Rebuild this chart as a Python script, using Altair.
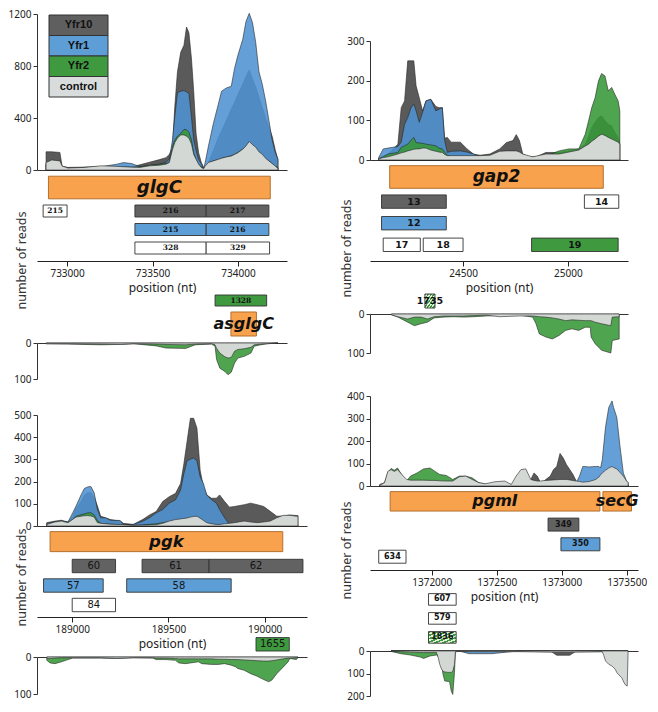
import altair as alt
import pandas as pd

SERIES = ["Yfr10", "Yfr1", "Yfr2", "control"]

# ---------------- glgC (top-left) ----------------
GLGC_POS = [732877, 732910, 732958, 732971, 733005, 733101, 733197, 733292, 733330, 733378,
            733426, 733483, 733541, 733579, 733598, 733617, 733630, 733646, 733665, 733684,
            733699, 733713, 733728, 733741, 733755, 733770, 733785, 733799, 733808, 733827,
            733856, 733885, 733904, 733932, 733961, 733980, 733999, 734028, 734047, 734066,
            734085, 734104, 734123, 734143, 734162, 734181, 734200, 734219, 734234]
GLGC_YFR10 = [140, 140, 135, 30, 20, 22, 25, 28, 30, 25, 40, 60, 80, 95, 120, 170, 480, 756, 905, 960,
              1100, 1055, 855, 605, 280, 132, 60, 20, 15, 60, 150, 250, 300, 380, 470, 520, 580, 660, 720, 770,
              700, 640, 560, 480, 400, 330, 260, 150, 80]
GLGC_YFR1 = [50, 50, 50, 20, 15, 20, 25, 45, 57, 50, 25, 35, 45, 60, 82, 232, 407, 594, 606, 611,
             600, 590, 407, 232, 150, 80, 50, 12, 57, 182, 357, 506, 606, 631, 644, 781, 880, 1005, 1143, 1205,
             1135, 980, 756, 656, 531, 382, 232, 132, 82]
GLGC_YFR2 = [40, 40, 40, 15, 12, 15, 20, 22, 22, 20, 25, 35, 45, 50, 60, 182, 230, 260, 282, 312,
             310, 290, 232, 132, 80, 40, 25, 12, 20, 50, 70, 80, 90, 100, 110, 120, 135, 160, 180, 200,
             180, 160, 135, 110, 85, 70, 50, 30, 20]
GLGC_CTRL = [57, 77, 70, 30, 15, 20, 32, 28, 25, 22, 20, 32, 37, 45, 57, 157, 210, 245, 270, 270,
             260, 245, 200, 120, 82, 45, 20, 10, 30, 57, 70, 82, 90, 100, 107, 120, 132, 160, 185, 220,
             195, 175, 140, 120, 90, 70, 50, 30, 10]
GLGC_AS_POS = [732877, 733005, 733197, 733311, 733388, 733522, 733579, 733694, 733751, 733846,
               733866, 733875, 733894, 733923, 733942, 733961, 733980, 733999, 734037, 734076,
               734095, 734133, 734171, 734234]
GLGC_AS_YFR2 = [2, 3, 5, 4, 2, 8, 14, 15, 5, 3, 9, 46, 70, 79, 88, 81, 56, 42, 37, 28, 9, 5, 2, 0]
GLGC_AS_CTRL = [2, 2, 3, 4, 2, 3, 4, 5, 3, 2, 5, 15, 28, 38, 42, 40, 23, 18, 16, 12, 5, 3, 2, 0]
GLGC_GENE = {"name": ["glgC"], "start": [732891], "end": [734189], "lane": [-0.27]}
GLGC_FRAGS = {"label": ["215", "216", "217", "215", "216", "328", "329"],
              "start": [732860, 733397, 733814, 733397, 733814, 733397, 733814],
              "end": [733000, 733814, 734181, 733814, 734181, 733814, 734185],
              "lane": [1, 1, 1, 2, 2, 3, 3],
              "kind": ["control", "Yfr10", "Yfr10", "Yfr1", "Yfr1", "control", "control"]}
GLGC_AS_GENE = {"name": ["asglgC"], "start": [733959], "end": [734108], "lane": [0]}
GLGC_AS_FRAGS = {"label": ["1328"], "start": [733866], "end": [734168], "lane": [1], "kind": ["Yfr2"]}

# ---------------- gap2 (top-right) ----------------
GAP2_POS = [24098, 24119, 24142, 24189, 24205, 24221, 24236, 24252, 24265, 24276, 24291, 24307,
            24323, 24346, 24370, 24385, 24401, 24412, 24425, 24443, 24487, 24519, 24550, 24581,
            24628, 24675, 24707, 24738, 24754, 24769, 24785, 24832, 24895, 24958, 25005, 25052,
            25083, 25099, 25114, 25130, 25146, 25161, 25177, 25193, 25209, 25224, 25240, 25248]
GAP2_YFR10 = [5, 10, 15, 40, 132, 149, 250, 250, 250, 187, 157, 124, 149, 153, 135, 132, 132, 55, 57, 45,
              45, 28, 15, 12, 15, 28, 44, 49, 64, 49, 15, 4, 19, 19, 23, 28, 40, 60, 82, 95,
              107, 111, 99, 90, 86, 70, 57, 40]
GAP2_YFR1 = [7, 28, 30, 34, 45, 90, 107, 132, 141, 124, 95, 120, 149, 153, 124, 128, 132, 50, 19, 22,
             23, 20, 15, 5, 2, 2, 2, 2, 2, 2, 2, 2, 2, 2, 2, 2, 2, 2, 2, 2,
             2, 2, 2, 2, 2, 2, 2, 2]
GAP2_YFR2 = [3, 8, 15, 19, 32, 36, 40, 50, 57, 44, 43, 42, 40, 38, 36, 30, 28, 20, 12, 8,
             8, 8, 8, 8, 8, 10, 10, 10, 10, 10, 10, 8, 10, 23, 28, 28, 65, 99, 132, 157,
             199, 218, 212, 174, 183, 166, 149, 124]
GAP2_CTRL = [3, 6, 8, 15, 18, 20, 23, 25, 27, 28, 28, 30, 30, 25, 22, 20, 19, 14, 11, 11,
             11, 11, 11, 11, 12, 22, 23, 23, 23, 20, 15, 8, 15, 15, 20, 25, 35, 40, 47, 53,
             60, 65, 62, 57, 53, 49, 45, 40]
GAP2_AS_POS = [24158, 24189, 24236, 24268, 24299, 24330, 24362, 24409, 24456, 24503, 24550, 24613,
               24675, 24769, 24832, 24848, 24864, 24895, 24926, 24958, 24989, 25020, 25052, 25083,
               25107, 25111, 25130, 25161, 25205, 25212, 25245]
GAP2_AS_YFR2 = [2, 8, 21, 30, 25, 21, 10, 8, 7, 8, 7, 5, 4, 3, 8, 25, 51, 59, 64, 55,
                42, 38, 42, 34, 34, 59, 76, 93, 100, 68, 64]
GAP2_AS_CTRL = [2, 7, 13, 8, 8, 13, 7, 5, 5, 5, 4, 3, 7, 5, 5, 6, 7, 8, 10, 13,
                17, 15, 16, 17, 17, 17, 21, 25, 30, 8, 7]
GAP2_GENE = {"name": ["gap2"], "start": [24150], "end": [25169], "lane": [-0.14]}
GAP2_FRAGS = {"label": ["13", "14", "12", "17", "18", "19"],
              "start": [24111, 25079, 24111, 24119, 24310, 24827],
              "end": [24420, 25243, 24420, 24296, 24500, 25240],
              "lane": [1, 1, 2, 3, 3, 3],
              "kind": ["Yfr10", "control", "Yfr1", "control", "control", "Yfr2"]}
GAP2_AS_FRAGS = {"label": ["1735"], "start": [24318], "end": [24366], "lane": [0], "kind": ["hatch"]}

# ---------------- pgk (bottom-left) ----------------
PGK_POS = [188868, 188910, 188944, 188978, 189003, 189020, 189046, 189063, 189080, 189097,
           189114, 189131, 189148, 189173, 189198, 189249, 189266, 189317, 189368, 189402,
           189436, 189470, 189504, 189537, 189563, 189580, 189597, 189614, 189631, 189648,
           189665, 189682, 189699, 189724, 189749, 189766, 189792, 189817, 189843, 189894,
           189927, 189961, 189995, 190029, 190063, 190097, 190131, 190165, 190173]
PGK_YFR10 = [15, 22, 26, 18, 44, 80, 110, 140, 150, 150, 130, 90, 44, 37, 29, 22, 12, 7, 30, 50,
             65, 110, 132, 147, 191, 279, 382, 485, 485, 441, 250, 176, 140, 125, 125, 140, 110, 85, 88, 96,
             103, 96, 88, 66, 44, 45, 50, 47, 47]
PGK_YFR1 = [12, 18, 22, 18, 60, 90, 140, 169, 176, 178, 150, 74, 37, 37, 26, 25, 7, 7, 22, 37,
            59, 74, 103, 118, 162, 235, 294, 301, 306, 294, 221, 191, 140, 118, 103, 74, 37, 7, 0, 0,
            0, 0, 0, 0, 0, 0, 0, 0, 0]
PGK_YFR2 = [5, 10, 15, 12, 30, 44, 51, 55, 59, 60, 50, 25, 12, 10, 8, 6, 4, 3, 5, 8,
            10, 15, 20, 25, 28, 30, 32, 35, 38, 40, 30, 20, 12, 8, 6, 5, 5, 5, 5, 5,
            5, 5, 5, 5, 5, 5, 5, 5, 5]
PGK_CTRL = [7, 18, 22, 15, 30, 40, 44, 46, 47, 45, 40, 15, 12, 10, 8, 7, 6, 3, 4, 5,
            6, 12, 22, 29, 32, 34, 36, 40, 43, 44, 35, 25, 15, 10, 7, 7, 10, 12, 15, 22,
            18, 15, 18, 22, 37, 48, 48, 44, 44]
PGK_AS_POS = [188868, 188885, 188910, 188944, 188978, 189003, 189148, 189232, 189317, 189419,
              189436, 189487, 189537, 189554, 189588, 189656, 189673, 189724, 189758, 189792,
              189826, 189851, 189860, 189894, 189927, 189961, 189995, 190021, 190038, 190063,
              190097, 190122, 190131, 190165, 190173]
PGK_AS_YFR2 = [9, 16, 18, 13, 7, 3, 3, 4, 2, 3, 7, 7, 9, 16, 18, 13, 18, 20, 20, 18,
               22, 27, 31, 36, 45, 52, 61, 67, 62, 45, 27, 13, 4, 7, 2]
PGK_AS_CTRL = [4, 4, 3, 2, 2, 2, 2, 4, 2, 2, 3, 3, 4, 5, 5, 5, 5, 5, 6, 6,
               7, 7, 7, 8, 9, 10, 11, 11, 10, 8, 5, 3, 3, 2, 1]
PGK_GENE = {"name": ["pgk"], "start": [188885], "end": [190094], "lane": [-0.25]}
PGK_FRAGS = {"label": ["60", "61", "62", "57", "58", "84"],
             "start": [189000, 189363, 189711, 188851, 189283, 189000],
             "end": [189225, 189711, 190199, 189161, 189826, 189225],
             "lane": [1, 1, 1, 2, 2, 3],
             "kind": ["Yfr10", "Yfr10", "Yfr10", "Yfr1", "Yfr1", "control"]}
PGK_AS_FRAGS = {"label": ["1655"], "start": [189955], "end": [190128], "lane": [0], "kind": ["Yfr2"]}

# ---------------- pgmI / secG (bottom-right) ----------------
PGMI_POS = [1371600, 1371637, 1371662, 1371687, 1371712, 1371737, 1371775, 1371807, 1371837, 1371887,
            1371937, 1371987, 1372025, 1372062, 1372112, 1372162, 1372212, 1372262, 1372312, 1372362,
            1372412, 1372487, 1372562, 1372612, 1372649, 1372687, 1372724, 1372762, 1372787, 1372812,
            1372837, 1372862, 1372912, 1372937, 1372962, 1372987, 1373012, 1373037, 1373062, 1373087,
            1373112, 1373137, 1373162, 1373212, 1373262, 1373287, 1373299, 1373312, 1373337, 1373362,
            1373387, 1373399, 1373424, 1373449, 1373474, 1373499, 1373511]
PGMI_YFR10 = [3, 5, 5, 5, 5, 5, 5, 5, 5, 5, 5, 5, 5, 5, 5, 5, 5, 5, 5, 5,
              5, 5, 5, 5, 5, 5, 5, 29, 58, 44, 15, 22, 44, 73, 87, 145, 124, 95, 73, 51,
              22, 5, 5, 5, 5, 5, 5, 5, 5, 5, 5, 5, 5, 5, 5, 5, 5]
PGMI_YFR1 = [3, 3, 3, 3, 3, 3, 3, 3, 3, 3, 3, 3, 3, 3, 3, 3, 3, 3, 3, 3,
             3, 3, 3, 3, 3, 3, 3, 3, 3, 3, 3, 3, 3, 3, 3, 3, 3, 3, 3, 3,
             15, 44, 87, 85, 87, 87, 80, 116, 262, 349, 378, 349, 305, 174, 58, 22, 15]
PGMI_YFR2 = [7, 15, 58, 78, 70, 80, 44, 22, 44, 58, 76, 80, 65, 51, 47, 29, 44, 44, 36, 15,
             8, 5, 5, 5, 5, 5, 5, 5, 5, 5, 5, 5, 5, 5, 5, 5, 5, 5, 5, 5,
             5, 5, 5, 5, 5, 5, 5, 5, 5, 5, 5, 5, 5, 5, 5, 5, 5]
PGMI_CTRL = [3, 15, 65, 73, 65, 73, 48, 29, 26, 26, 26, 25, 25, 23, 22, 22, 41, 44, 29, 15,
             10, 19, 22, 7, 44, 73, 76, 29, 25, 22, 22, 24, 26, 27, 28, 29, 29, 29, 27, 24,
             22, 20, 17, 20, 29, 40, 50, 58, 70, 80, 87, 82, 76, 60, 44, 22, 15]
PGMI_AS_POS = [1371687, 1371762, 1371837, 1371912, 1371937, 1371987, 1372037, 1372050, 1372062, 1372075,
               1372087, 1372100, 1372125, 1372137, 1372150, 1372162, 1372175, 1372182, 1372212, 1372287,
               1372312, 1372437, 1372462, 1372662, 1372912, 1372962, 1372987, 1373037, 1373062, 1373112,
               1373312, 1373324, 1373337, 1373362, 1373387, 1373412, 1373424, 1373436, 1373461, 1373486,
               1373504, 1373511]
PGMI_AS_YFR10 = [0] * 25 + [19, 19, 19, 19] + [0] * 13
PGMI_AS_YFR1 = [0] * 19 + [12, 12, 12, 12] + [0] * 19
PGMI_AS_YFR2 = [2, 12, 18, 27, 33, 22, 18, 25, 30, 59, 104, 133, 135, 136, 178, 193, 96, 3, 2, 2,
                2, 2, 2, 2, 3, 3, 3, 3, 3, 3, 3, 3, 3, 3, 3, 3, 3, 3, 3, 3, 3, 0]
PGMI_AS_CTRL = [1, 3, 5, 7, 7, 7, 7, 30, 60, 80, 90, 93, 95, 95, 95, 90, 60, 3, 2, 3,
                3, 3, 3, 3, 5, 5, 5, 5, 5, 5, 3, 20, 44, 59, 67, 81, 96, 104, 118, 148, 156, 0]
PGMI_GENE = {"name": ["pgmI", "secG"], "start": [1371680, 1373317], "end": [1373294, 1373537],
             "lane": [-0.18, -0.18]}
PGMI_FRAGS = {"label": ["349", "350", "634"],
              "start": [1372895, 1372994, 1371592],
              "end": [1373132, 1373294, 1371802],
              "lane": [1, 2, 2.63],
              "kind": ["Yfr10", "Yfr1", "control"]}
PGMI_AS_FRAGS = {"label": ["1836", "579", "607"],
                 "start": [1371975, 1371975, 1371975],
                 "end": [1372188, 1372188, 1372188],
                 "lane": [0, 1, 2],
                 "kind": ["hatch", "control", "control"]}

# ---------------- styles ----------------
FONT = "Noto Sans"
AREA_FILL = {"Yfr10": "#5a5a5a", "Yfr1": "#4f93d2", "Yfr2": "#379737", "control": "#d3d8d5"}
AREA_OPACITY = {"Yfr10": 1.0, "Yfr1": 0.88, "Yfr2": 0.88, "control": 1.0}
BOX_FILL = {"Yfr10": "#626262", "Yfr1": "#5e9ed7", "Yfr2": "#3f9a3f", "control": "#ffffff"}
LEGEND_FILL = ["#5f5f5f", "#5e9ed7", "#3f9a3f", "#d9dcdc"]
GENE_FILL = "#f9a24e"
GENE_STROKE = "#b3702e"

stops = []
for i in range(7):
    a, b, c = i / 7, (i + 0.5) / 7, (i + 1) / 7
    stops += [alt.GradientStop(offset=a, color="#3f9a3f"), alt.GradientStop(offset=b, color="#3f9a3f"),
              alt.GradientStop(offset=b, color="#e4f2df"), alt.GradientStop(offset=c, color="#e4f2df")]
HATCH = alt.LinearGradient(gradient="linear", x1=0, y1=0, x2=1, y2=1, stops=stops)


def area_layers(pos, series, xs, ydom, yticks, antisense):
    xaxis = alt.Axis(orient="top" if antisense else "bottom", labels=False, ticks=False, title=None,
                     domainColor="#333", grid=False)
    yaxis = alt.Axis(values=yticks, format="d", title=None, tickSize=4, labelPadding=2, domainColor="#333",
                     tickColor="#333", labelFont=FONT, labelFontSize=10, labelColor="#222", grid=False)
    ys = alt.Scale(domain=ydom, nice=False, zero=False, reverse=antisense)
    layers = []
    for name, vals in series:
        df = pd.DataFrame({"pos": pos, "reads": vals})
        layers.append(
            alt.Chart(df).mark_area(fill=AREA_FILL[name], fillOpacity=AREA_OPACITY[name], stroke="#262626",
                                    strokeWidth=0.6, strokeJoin="round").encode(
                x=alt.X("pos:Q", scale=xs, axis=xaxis),
                y=alt.Y("reads:Q", scale=ys, axis=yaxis),
            )
        )
    return alt.layer(*layers)


def legend_layer():
    df = pd.DataFrame({"series": SERIES, "box": ["legend"] * 4})
    lx = alt.X("box:N", scale=alt.Scale(domain=["legend"], range=[12, 71], paddingInner=0, paddingOuter=0),
               axis=None)
    ly = alt.Y("series:N", scale=alt.Scale(domain=SERIES, range=[1, 83], paddingInner=0, paddingOuter=0),
               axis=None)
    rect = alt.Chart(df).mark_rect(stroke="#333", strokeWidth=1).encode(
        x=lx, y=ly, fill=alt.Fill("series:N", scale=alt.Scale(domain=SERIES, range=LEGEND_FILL), legend=None))
    text = alt.Chart(df).mark_text(font="Liberation Sans", fontWeight="bold", fontSize=11, color="#111").encode(
        x=lx, y=ly, text="series:N")
    return alt.layer(rect, text)


def annot(genes, frags, xs, w, h, ydom, reverse, gene_half, frag_half, gene_size,
          ffont, fsize, fweight, xaxis, yaxis):
    ys = alt.Scale(domain=ydom, reverse=reverse, nice=False, zero=False)
    layers = []
    if genes is not None:
        g = pd.DataFrame(genes)
        base = alt.Chart(g).transform_calculate(lo=f"datum.lane - {gene_half}", hi=f"datum.lane + {gene_half}",
                                                mid="(datum.start + datum.end) / 2")
        layers.append(base.mark_rect(fill=GENE_FILL, stroke=GENE_STROKE, strokeWidth=1).encode(
            x=alt.X("start:Q", scale=xs, axis=xaxis), x2="end:Q",
            y=alt.Y("lo:Q", scale=ys, axis=yaxis), y2="hi:Q"))
        layers.append(base.mark_text(font="DejaVu Sans", fontStyle="italic", fontWeight="bold",
                                     fontSize=gene_size, color="#111").encode(
            x=alt.X("mid:Q", scale=xs, axis=xaxis), y=alt.Y("lane:Q", scale=ys, axis=yaxis), text="name:N"))
    f = pd.DataFrame(frags)
    for kind in ["Yfr10", "Yfr1", "Yfr2", "control", "hatch"]:
        sub = f[f["kind"] == kind]
        if len(sub) == 0:
            continue
        fill = HATCH if kind == "hatch" else BOX_FILL[kind]
        base = alt.Chart(sub).transform_calculate(lo=f"datum.lane - {frag_half}", hi=f"datum.lane + {frag_half}",
                                                  mid="(datum.start + datum.end) / 2")
        layers.append(base.mark_rect(fill=fill, stroke="#333", strokeWidth=0.9).encode(
            x=alt.X("start:Q", scale=xs, axis=xaxis), x2="end:Q",
            y=alt.Y("lo:Q", scale=ys, axis=yaxis), y2="hi:Q"))
        layers.append(base.mark_text(font=ffont, fontSize=fsize, fontWeight=fweight, color="#141414").encode(
            x=alt.X("mid:Q", scale=xs, axis=xaxis), y=alt.Y("lane:Q", scale=ys, axis=yaxis), text="label:N"))
    return alt.layer(*layers).properties(width=w, height=h)


def panel(c):
    xs = alt.Scale(domain=c["xdom"], nice=False, zero=False)
    w = c["width"]
    top = area_layers(c["pos"], c["series"], xs, c["ydom"], c["yticks"], False)
    if c.get("legend"):
        top = alt.layer(top, legend_layer()).resolve_scale(x="independent", y="independent")
    top = top.properties(width=w, height=c["top_h"])

    xaxis = alt.Axis(values=c["xticks"], format="d", title="position (nt)", tickSize=5, labelPadding=2,
                     titlePadding=4, labelFont=FONT, labelFontSize=10, titleFont=FONT, titleFontSize=12,
                     titleFontWeight="normal", domainColor="#222", tickColor="#222", labelColor="#222",
                     titleColor="#222", grid=False)
    yaxis = alt.Axis(title="number of reads", domain=False, ticks=False, labels=False, grid=False,
                     titleX=c["title_x"], titleY=c["title_y"], titleAngle=270, titleAlign="center",
                     titleBaseline="middle", titleFont=FONT, titleFontSize=12.5, titleFontWeight="normal",
                     titleColor="#333")
    lp = c["lane_px"]
    d0 = 1 - c["lane1_px"] / lp
    sense = annot(c["genes"], c["frags"], xs, w, c["annot_h"], [d0, d0 + c["annot_h"] / lp], True,
                  c["gene_half_px"] / lp, c["frag_half_px"] / lp, c["gene_size"],
                  c["ffont"], c["fsize"], c["fweight"], xaxis, yaxis)

    alp = c["as_lane_px"]
    a0 = -c["as_base_px"] / alp
    anti = annot(c.get("as_genes"), c["as_frags"], xs, w, c["anti_h"], [a0, a0 + c["anti_h"] / alp], False,
                 c.get("as_gene_half_px", 10) / alp, c["as_frag_half_px"] / alp, c.get("as_gene_size", 16),
                 c["ffont"], c["fsize"], c["fweight"], None, None)

    bot = area_layers(c["as_pos"], c["as_series"], xs, c["as_ydom"], c["as_yticks"], True).properties(
        width=w, height=c["bot_h"])
    return [top, sense, anti, bot]


def spacer(w, h):
    # invisible block that only reserves vertical room in a column
    return alt.Chart(pd.DataFrame({"v": [0]})).mark_rule(strokeOpacity=0).encode(
        x=alt.value(0), y=alt.value(0), y2=alt.value(h)).properties(width=w, height=h)


glgc = panel(dict(
    xdom=[732824, 734287], width=250, top_h=156, annot_h=91, anti_h=82, bot_h=36,
    pos=GLGC_POS, series=[("Yfr10", GLGC_YFR10), ("Yfr1", GLGC_YFR1), ("Yfr2", GLGC_YFR2), ("control", GLGC_CTRL)],
    ydom=[0, 1200], yticks=[0, 400, 800, 1200], legend=True,
    xticks=[733000, 733500, 734000], title_x=-16, title_y=90,
    genes=GLGC_GENE, frags=GLGC_FRAGS, lane_px=18.5, lane1_px=41, gene_half_px=11.3, frag_half_px=6,
    gene_size=18, ffont="DejaVu Serif", fsize=7.5, fweight="bold",
    as_genes=GLGC_AS_GENE, as_frags=GLGC_AS_FRAGS, as_lane_px=23.5, as_base_px=19,
    as_gene_half_px=12, as_frag_half_px=5.5, as_gene_size=16,
    as_pos=GLGC_AS_POS, as_series=[("Yfr2", GLGC_AS_YFR2), ("control", GLGC_AS_CTRL)],
    as_ydom=[0, 100], as_yticks=[0, 100]))

gap2 = panel(dict(
    xdom=[24056, 25287], width=258, top_h=119, annot_h=101, anti_h=53, bot_h=39,
    pos=GAP2_POS, series=[("Yfr10", GAP2_YFR10), ("Yfr1", GAP2_YFR1), ("Yfr2", GAP2_YFR2), ("control", GAP2_CTRL)],
    ydom=[0, 300], yticks=[0, 100, 200, 300],
    xticks=[24500, 25000], title_x=-24, title_y=88,
    genes=GAP2_GENE, frags=GAP2_FRAGS, lane_px=21.6, lane1_px=41.6, gene_half_px=11.3, frag_half_px=6.7,
    gene_size=17, ffont="DejaVu Sans", fsize=9.5, fweight="bold",
    as_frags=GAP2_AS_FRAGS, as_lane_px=19, as_base_px=13, as_frag_half_px=7,
    as_pos=GAP2_AS_POS, as_series=[("Yfr2", GAP2_AS_YFR2), ("control", GAP2_AS_CTRL)],
    as_ydom=[0, 100], as_yticks=[0, 100]))

pgk = panel(dict(
    xdom=[188817, 190220], width=270, top_h=111, annot_h=91, anti_h=40, bot_h=37,
    pos=PGK_POS, series=[("Yfr10", PGK_YFR10), ("Yfr1", PGK_YFR1), ("Yfr2", PGK_YFR2), ("control", PGK_CTRL)],
    ydom=[0, 500], yticks=[0, 100, 200, 300, 400, 500],
    xticks=[189000, 189500, 190000], title_x=-16, title_y=51,
    genes=PGK_GENE, frags=PGK_FRAGS, lane_px=19.5, lane1_px=40, gene_half_px=10, frag_half_px=6.7,
    gene_size=16.5, ffont="DejaVu Sans", fsize=10, fweight="normal",
    as_frags=PGK_AS_FRAGS, as_lane_px=19.7, as_base_px=12.7, as_frag_half_px=6.7,
    as_pos=PGK_AS_POS, as_series=[("Yfr2", PGK_AS_YFR2), ("control", PGK_AS_CTRL)],
    as_ydom=[0, 100], as_yticks=[0, 100]))

pgmi = panel(dict(
    xdom=[1371525, 1373587], width=268, top_h=90, annot_h=84, anti_h=81, bot_h=45,
    pos=PGMI_POS, series=[("Yfr10", PGMI_YFR10), ("Yfr1", PGMI_YFR1), ("Yfr2", PGMI_YFR2), ("control", PGMI_CTRL)],
    ydom=[0, 400], yticks=[0, 100, 200, 300, 400],
    xticks=[1372000, 1372500, 1373000, 1373500], title_x=-24, title_y=64,
    genes=PGMI_GENE, frags=PGMI_FRAGS, lane_px=19.7, lane1_px=38.6, gene_half_px=9.7, frag_half_px=6.5,
    gene_size=16, ffont="DejaVu Sans", fsize=8, fweight="bold",
    as_frags=PGMI_AS_FRAGS, as_lane_px=19, as_base_px=13.6, as_frag_half_px=5.8,
    as_pos=PGMI_AS_POS,
    as_series=[("Yfr10", PGMI_AS_YFR10), ("Yfr1", PGMI_AS_YFR1), ("Yfr2", PGMI_AS_YFR2), ("control", PGMI_AS_CTRL)],
    as_ydom=[0, 200], as_yticks=[0, 100, 200]))

left = alt.vconcat(spacer(250, 6), *glgc, spacer(250, 36), *pgk, spacing=0, bounds="flush").resolve_scale(
    x="independent", y="independent")
right = alt.vconcat(spacer(258, 33), *gap2, spacer(258, 43), *pgmi, spacing=0, bounds="flush").resolve_scale(
    x="independent", y="independent")

chart = alt.hconcat(left, right, spacing=32).resolve_scale(x="independent", y="independent").properties(
    padding=0).configure_view(stroke=None).configure_axis(grid=False)

chart.save("out.html", embed_options={"renderer": "svg", "actions": False})
